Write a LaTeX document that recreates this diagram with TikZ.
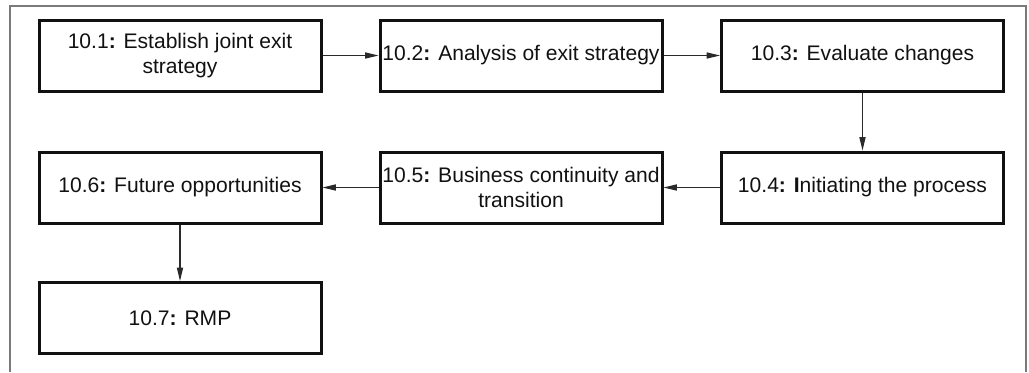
\documentclass[tikz,border=0pt]{standalone}
\usepackage{fontspec}
\setmainfont{Liberation Sans}
\usetikzlibrary{arrows.meta}
\definecolor{ink}{HTML}{111111}
\definecolor{framegray}{HTML}{7A7A7A}
\definecolor{linkgray}{HTML}{2A2A2A}
\begin{document}
\begin{tikzpicture}[x=0.75pt,y=-0.75pt,
  stepbox/.style={draw=ink,line width=2.25pt,minimum width=211.5pt,minimum height=53.25pt,
    inner sep=1pt,align=center,font=\fontsize{15.8}{18.6}\selectfont,text=ink},
  link/.style={draw=linkgray,line width=0.8pt,-{Triangle[length=10pt,width=4.6pt]}}]
\useasboundingbox (0,0) rectangle (1029,372);
% open frame around the chart
\draw[framegray,line width=1.1pt] (10,372) -- (10,6) -- (1026,6) -- (1026,372);
% process steps
\node[stepbox] (s1) at (180,55.5) {10.1\textbf{:} Establish joint exit\\strategy};
\node[stepbox] (s2) at (521,55.5) {10.2\textbf{:} Analysis of exit strategy};
\node[stepbox] (s3) at (862.5,55.5) {10.3\textbf{:} Evaluate changes};
\node[stepbox] (s4) at (862.5,187.5) {10.4\textbf{:} \textbf{I}nitiating the process};
\node[stepbox] (s5) at (521,187.5) {10.5\textbf{:} Business continuity and\\transition};
\node[stepbox] (s6) at (180,187.5) {10.6\textbf{:} Future opportunities};
\node[stepbox] (s7) at (180,318) {10.7\textbf{:} RMP};
% flow between steps
\draw[link] (s1) -- (s2);
\draw[link] (s2) -- (s3);
\draw[link] (s3) -- (s4);
\draw[link] (s4) -- (s5);
\draw[link] (s5) -- (s6);
\draw[link] (s6) -- (s7);
\end{tikzpicture}
\end{document}
